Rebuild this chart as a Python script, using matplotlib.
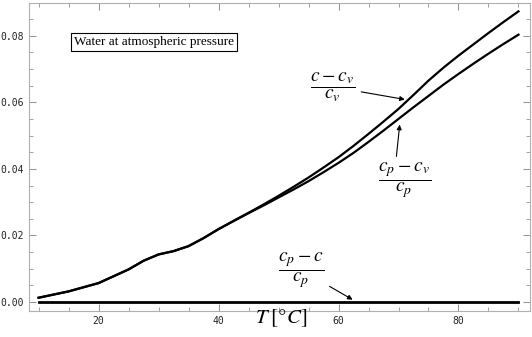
import numpy as np
import matplotlib
matplotlib.use("Agg")
import matplotlib.pyplot as plt
from matplotlib.ticker import MultipleLocator

plt.rcParams['mathtext.fontset'] = 'stix'

# temperature [C] and the three relative differences
T = [10, 15, 20, 25, 27.5, 30, 32.5, 35, 37.5, 40, 42.5, 45, 47.5, 50, 52.5,
     55, 57.5, 60, 62.5, 65, 67.5, 70, 72.5, 75, 77.5, 80, 82.5, 85, 87.5, 90]
c_cv = [0.0013, 0.0032, 0.0057, 0.0098, 0.0124, 0.0143, 0.0153, 0.0168, 0.0192,
        0.0219, 0.0244, 0.0268, 0.0293, 0.0319, 0.0346, 0.0374, 0.0404,
        0.0435, 0.0469, 0.0505, 0.0542, 0.0580, 0.0622, 0.0665, 0.0704,
        0.0740, 0.0774, 0.0808, 0.0841, 0.0873]
cp_cv = [0.0013, 0.0032, 0.0057, 0.0098, 0.0124, 0.0143, 0.0153, 0.0168, 0.0192,
         0.0219, 0.0243, 0.0267, 0.0290, 0.0314, 0.0338, 0.0363, 0.0390,
         0.0418, 0.0448, 0.0481, 0.0515, 0.0550, 0.0585, 0.0619, 0.0653,
         0.0685, 0.0716, 0.0746, 0.0775, 0.0803]
cp_c = [0.0] * len(T)

fig = plt.figure(figsize=(5.32, 3.37), dpi=100)
ax = fig.add_axes([0.0545, 0.078, 0.9415, 0.913])

ax.plot(T, c_cv, color='black', lw=1.6)
ax.plot(T, cp_cv, color='black', lw=1.6)
ax.plot(T, cp_c, color='black', lw=2.0)

ax.set_xlim(8.4, 91.9)
ax.set_ylim(-0.0026, 0.0898)

ax.xaxis.set_minor_locator(MultipleLocator(5))
ax.yaxis.set_minor_locator(MultipleLocator(0.005))
ax.set_xticks([20, 40, 60, 80])
ax.set_yticks([0, 0.02, 0.04, 0.06, 0.08])
ax.set_yticklabels(['0.00', '0.02', '0.04', '0.06', '0.08'])

for s in ax.spines.values():
    s.set_color('#b0b0b0')
ax.tick_params(which='both', direction='in', top=True, right=True,
               color='#909090', labelsize=7, labelcolor='#222222')
ax.tick_params(which='major', length=5, width=0.7)
ax.tick_params(which='minor', length=3, width=0.6)
for lab in ax.get_xticklabels() + ax.get_yticklabels():
    lab.set_family('DejaVu Sans Mono')

ax.text(50.5, -0.0050, r'$T\;[°C]$', fontsize=15, ha='center', va='center')

ax.text(29.25, 0.0781, 'Water at atmospheric pressure', family='Liberation Serif',
        fontsize=9.5, ha='center', va='center',
        bbox=dict(boxstyle='square,pad=0.25', fc='white', ec='black', lw=0.8))

arrow = dict(arrowstyle='-|>', color='black', lw=0.8, mutation_scale=7)
ax.annotate(r'$\dfrac{c-c_v}{c_v}$', xy=(71.5, 0.0607), xytext=(59.1, 0.0646),
            fontsize=14, ha='center', va='center', arrowprops=arrow)
ax.annotate('', xy=(70.25, 0.0541), xytext=(69.6, 0.0429), arrowprops=arrow)
ax.text(71, 0.0366, r'$\dfrac{c_p-c_v}{c_p}$', fontsize=14, ha='center', va='center')
ax.annotate(r'$\dfrac{c_p-c}{c_p}$', xy=(62.75, 0.0003), xytext=(53.8, 0.0096),
            fontsize=14, ha='center', va='center', arrowprops=arrow)

fig.savefig('out.png', dpi=100)
